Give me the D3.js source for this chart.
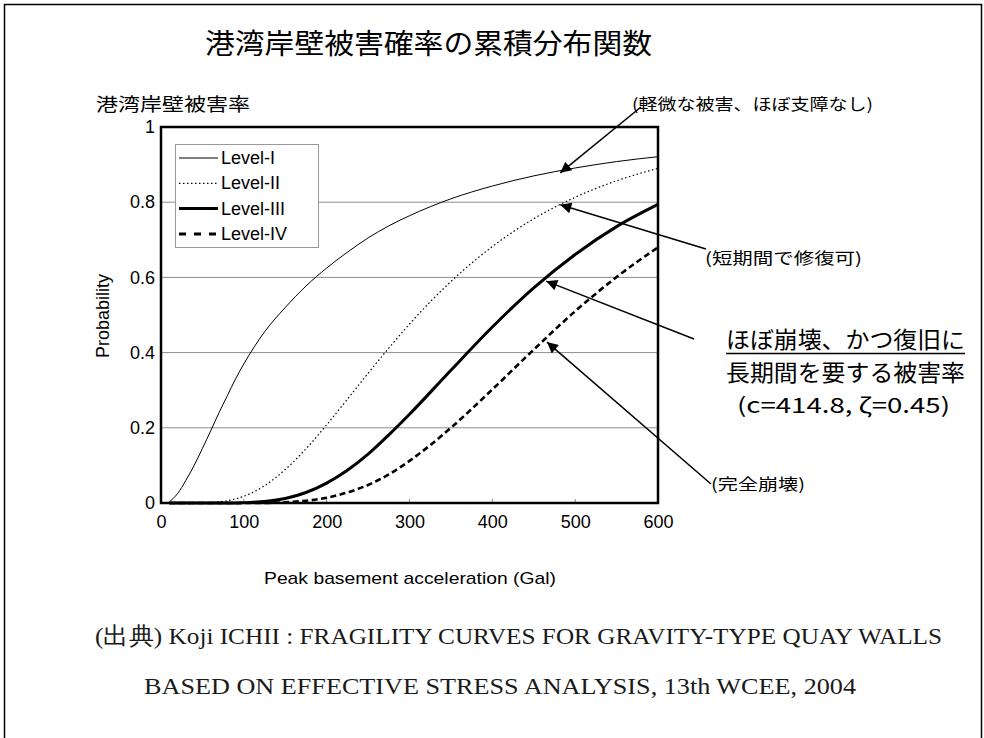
<!DOCTYPE html>
<html><head><meta charset="utf-8">
<script src="https://cdn.jsdelivr.net/npm/d3@7"></script>
<style>
html,body{margin:0;padding:0;background:#fff;}
svg{display:block;}
</style></head>
<body>
<svg id="chart" width="984" height="738"></svg>
<script>
// ---- data ----
const accel = [10, 20, 30, 40, 50, 60, 70, 80, 90, 100, 125, 150, 175, 200, 225, 250, 275, 300, 350, 400, 450, 500, 550, 600];
const level1 = [0.003, 0.025, 0.06, 0.10, 0.145, 0.192, 0.24, 0.285, 0.33, 0.37, 0.455, 0.52, 0.577, 0.625, 0.667, 0.705, 0.737, 0.764, 0.809, 0.843, 0.870, 0.891, 0.908, 0.921];
const level2 = [0, 0, 0, 0, 0, 0.001, 0.003, 0.006, 0.011, 0.018, 0.046, 0.089, 0.144, 0.208, 0.276, 0.345, 0.412, 0.476, 0.589, 0.682, 0.756, 0.813, 0.857, 0.890];
const level3 = [0, 0, 0, 0, 0, 0, 0, 0, 0, 0.001, 0.004, 0.012, 0.028, 0.053, 0.087, 0.130, 0.181, 0.236, 0.353, 0.468, 0.572, 0.661, 0.735, 0.794];
const level4 = [0, 0, 0, 0, 0, 0, 0, 0, 0, 0, 0, 0.002, 0.006, 0.014, 0.028, 0.048, 0.076, 0.112, 0.200, 0.302, 0.408, 0.510, 0.601, 0.680];
const seriesNames = ["Level-I", "Level-II", "Level-III", "Level-IV"];
const xTicks = [0, 100, 200, 300, 400, 500, 600];
const yTicks = [0, 0.2, 0.4, 0.6, 0.8, 1];
const yTickLabels = ["0", "0.2", "0.4", "0.6", "0.8", "1"];
// annotation targets (data units)
const annoTargets = [[482, 0.878], [482, 0.793], [465, 0.59], [466, 0.428]];

const title = "港湾岸壁被害確率の累積分布関数";
const yUnitLabel = "港湾岸壁被害率";
const xTitle = "Peak basement acceleration (Gal)";
const yTitle = "Probability";

// ---- layout ----
const svg = d3.select("#chart");
const M = {left: 161, right: 658, top: 127, bottom: 503};
const x = d3.scaleLinear().domain([0, 600]).range([M.left, M.right]);
const y = d3.scaleLinear().domain([0, 1]).range([M.bottom, M.top]);
const JP = "'Noto Sans CJK JP', sans-serif";
const SANS = "'Liberation Sans', Arial, sans-serif";

// page frame
svg.append("path").attr("d", "M4.5,738 L4.5,4.5 L981.5,4.5 L981.5,738")
  .attr("fill", "none").attr("stroke", "#000").attr("stroke-width", 1.5);

// title
svg.append("text").attr("x", 205).attr("y", 42).attr("dominant-baseline", "central")
  .attr("font-family", JP).attr("font-size", 28).attr("textLength", 447)
  .attr("lengthAdjust", "spacingAndGlyphs").text(title);

svg.append("text").attr("x", 96).attr("y", 103).attr("dominant-baseline", "central")
  .attr("font-family", JP).attr("font-size", 18).attr("textLength", 154)
  .attr("lengthAdjust", "spacingAndGlyphs").text(yUnitLabel);

// gridlines
svg.append("g").selectAll("line").data(yTicks.filter(d => d > 0 && d < 1)).join("line")
  .attr("x1", M.left).attr("x2", M.right).attr("y1", d => y(d)).attr("y2", d => y(d))
  .attr("stroke", "#8c8c8c").attr("stroke-width", 1);

// axes tick labels
const xAxis = d3.axisBottom(x).tickValues(xTicks).tickSize(0).tickPadding(12);
const gx = svg.append("g").attr("transform", `translate(0,${M.bottom})`).call(xAxis);
gx.select(".domain").remove();
gx.selectAll("text").attr("font-family", SANS).attr("font-size", 18).attr("fill", "#000");

const yAxis = d3.axisLeft(y).tickValues(yTicks).tickSize(0).tickPadding(6)
  .tickFormat((d, i) => yTickLabels[i]);
const gy = svg.append("g").attr("transform", `translate(${M.left},0)`).call(yAxis);
gy.select(".domain").remove();
gy.selectAll("text").attr("font-family", SANS).attr("font-size", 18).attr("fill", "#000");

// inner x ticks
svg.append("g").selectAll("line").data(xTicks.slice(1, -1)).join("line")
  .attr("x1", d => x(d)).attr("x2", d => x(d)).attr("y1", M.bottom).attr("y2", M.bottom - 4)
  .attr("stroke", "#888").attr("stroke-width", 1);

// axis titles
svg.append("text").attr("x", 410).attr("y", 578).attr("text-anchor", "middle")
  .attr("dominant-baseline", "central").attr("font-family", SANS).attr("font-size", 17)
  .attr("textLength", 292).attr("lengthAdjust", "spacingAndGlyphs").text(xTitle);
svg.append("text").attr("transform", "translate(103,316) rotate(-90)").attr("text-anchor", "middle")
  .attr("dominant-baseline", "central").attr("font-family", SANS).attr("font-size", 18).text(yTitle);

// curves
const styles = [
  {w: 1, dash: null},
  {w: 1.2, dash: "1.5,2.5"},
  {w: 3, dash: null},
  {w: 2.6, dash: "6,3.5"}
];
const allSeries = [level1, level2, level3, level4];
const line = d3.line().x(d => x(d[0])).y(d => y(d[1])).curve(d3.curveMonotoneX);
allSeries.forEach((vals, i) => {
  svg.append("path").datum(accel.map((a, j) => [a, vals[j]]))
    .attr("d", line).attr("fill", "none").attr("stroke", "#000")
    .attr("stroke-width", styles[i].w)
    .attr("stroke-dasharray", styles[i].dash);
});

// plot frame
svg.append("rect").attr("x", M.left).attr("y", M.top)
  .attr("width", M.right - M.left).attr("height", M.bottom - M.top)
  .attr("fill", "none").attr("stroke", "#000").attr("stroke-width", 2.5);

// legend
const lg = svg.append("g");
lg.append("rect").attr("x", 175.5).attr("y", 144.5).attr("width", 143).attr("height", 103)
  .attr("fill", "#fff").attr("stroke", "#999").attr("stroke-width", 1);
const legStyles = [
  {w: 1, dash: null},
  {w: 1.2, dash: "1.5,2.5"},
  {w: 3, dash: null},
  {w: 3, dash: "7,8"}
];
seriesNames.forEach((n, i) => {
  const yy = 158 + i * 25.3;
  lg.append("line").attr("x1", 179).attr("x2", 218).attr("y1", yy).attr("y2", yy)
    .attr("stroke", "#000").attr("stroke-width", legStyles[i].w)
    .attr("stroke-dasharray", legStyles[i].dash);
  lg.append("text").attr("x", 221).attr("y", yy).attr("dominant-baseline", "central")
    .attr("font-family", SANS).attr("font-size", 18).text(n);
});

// annotations
const defs = svg.append("defs");
defs.append("marker").attr("id", "ah").attr("viewBox", "0 0 10 10")
  .attr("refX", 10).attr("refY", 5).attr("markerWidth", 16).attr("markerHeight", 11)
  .attr("markerUnits", "userSpaceOnUse").attr("orient", "auto")
  .append("path").attr("d", "M0,0 L10,5 L0,10 Z").attr("fill", "#000");

const annoStarts = [[641, 107], [706, 249], [694, 339], [711, 484]];
annoTargets.forEach((t, i) => {
  svg.append("line").attr("x1", annoStarts[i][0]).attr("y1", annoStarts[i][1])
    .attr("x2", x(t[0])).attr("y2", y(t[1]))
    .attr("stroke", "#000").attr("stroke-width", 1.5).attr("marker-end", "url(#ah)");
});

const annoTexts = [
  {t: "(軽微な被害、ほぼ支障なし)", x: 632, y: 103, fs: 16, len: 241},
  {t: "(短期間で修復可)", x: 705, y: 257, fs: 16, len: 157},
  {t: "ほぼ崩壊、かつ復旧に", x: 726, y: 338, fs: 23, len: 239},
  {t: "長期間を要する被害率", x: 726, y: 371, fs: 23, len: 239},
  {t: "(c=414.8,  ζ=0.45)", x: 737, y: 404, fs: 21, len: 213},
  {t: "(完全崩壊)", x: 711, y: 483, fs: 16, len: 94}
];
annoTexts.forEach(a => {
  svg.append("text").attr("x", a.x).attr("y", a.y).attr("dominant-baseline", "central")
    .attr("font-family", JP).attr("font-size", a.fs).attr("textLength", a.len)
    .attr("lengthAdjust", "spacingAndGlyphs").text(a.t);
});
svg.append("line").attr("x1", 726).attr("x2", 965).attr("y1", 353.5).attr("y2", 353.5)
  .attr("stroke", "#000").attr("stroke-width", 1.5);

// source
const SERIF = "'Liberation Serif', 'DejaVu Serif', serif";
svg.append("text").attr("x", 95).attr("y", 636).attr("dominant-baseline", "central")
  .attr("font-family", SERIF).attr("font-size", 24).attr("fill", "#1a1a1a")
  .attr("textLength", 847).attr("lengthAdjust", "spacingAndGlyphs")
  .text("(出典) Koji ICHII : FRAGILITY CURVES FOR GRAVITY-TYPE QUAY WALLS");
svg.append("text").attr("x", 144).attr("y", 686).attr("dominant-baseline", "central")
  .attr("font-family", SERIF).attr("font-size", 24).attr("fill", "#1a1a1a")
  .attr("textLength", 712).attr("lengthAdjust", "spacingAndGlyphs")
  .text("BASED ON EFFECTIVE STRESS ANALYSIS, 13th WCEE, 2004");
</script>
</body></html>
